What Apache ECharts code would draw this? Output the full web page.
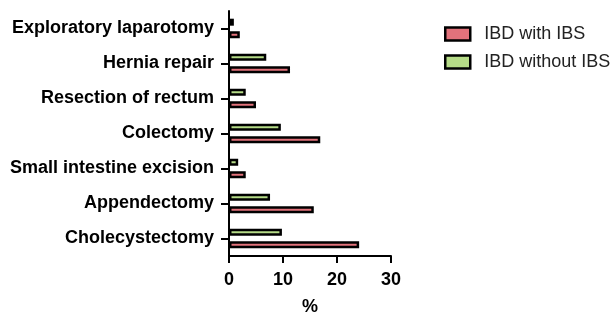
<!DOCTYPE html>
<html>
<head>
<meta charset="utf-8">
<script src="https://cdn.jsdelivr.net/npm/echarts@6/dist/echarts.min.js"></script>
<style>
  html, body { margin: 0; padding: 0; background: #fff; }
  #chart { width: 614px; height: 315px; }
</style>
</head>
<body>
<div id="chart"></div>
<script>
// categories listed bottom to top
const procedures = ['Cholecystectomy', 'Appendectomy', 'Small intestine excision', 'Colectomy',
  'Resection of rectum', 'Hernia repair', 'Exploratory laparotomy'];
const withIBS = [24.1, 15.7, 3.1, 16.9, 5.0, 11.3, 2.0];
const withoutIBS = [9.8, 7.6, 1.7, 9.6, 3.1, 6.9, 0.9];
const xTicks = [0, 10, 20, 30];

const chart = echarts.init(document.getElementById('chart'));
const font = 'Liberation Sans, Arial, sans-serif';

chart.setOption({
  animation: false,
  textStyle: { fontFamily: font },
  legend: {
    orient: 'vertical',
    left: 439,
    top: 20,
    icon: 'rect',
    itemWidth: 25,
    itemHeight: 13,
    itemGap: 10,
    itemStyle: { borderWidth: 2.5, borderColor: '#000' },
    textStyle: { fontSize: 18, color: '#222', fontFamily: font, padding: [0, 0, 0, 9] },
    data: ['IBD with IBS', 'IBD without IBS']
  },
  grid: { left: 229, top: 11, width: 162, height: 245, containLabel: false, outerBoundsMode: 'none' },
  xAxis: {
    type: 'value',
    min: xTicks[0],
    max: xTicks[xTicks.length - 1],
    interval: 10,
    name: '%',
    nameLocation: 'middle',
    nameGap: 42,
    nameTextStyle: { fontSize: 18, fontWeight: 'bold', color: '#000' },
    splitLine: { show: false },
    axisLine: { show: true, lineStyle: { color: '#000', width: 2 } },
    axisTick: { show: true, length: 7, lineStyle: { color: '#000', width: 2 } },
    axisLabel: { fontSize: 18, fontWeight: 'bold', color: '#000', margin: 15 }
  },
  yAxis: {
    type: 'category',
    data: procedures,
    axisLine: { show: true, lineStyle: { color: '#000', width: 2 } },
    axisTick: { show: true, alignWithLabel: true, length: 8, lineStyle: { color: '#000', width: 2 } },
    axisLabel: { fontSize: 18, fontWeight: 'bold', color: '#000', margin: 15 }
  },
  series: [
    {
      name: 'IBD without IBS',
      type: 'bar',
      data: withoutIBS,
      barWidth: 7,
      barGap: '80%',
      itemStyle: { color: '#b6dc88', borderColor: '#000', borderWidth: 2.5 }
    },
    {
      name: 'IBD with IBS',
      type: 'bar',
      data: withIBS,
      barWidth: 7,
      barGap: '80%',
      itemStyle: { color: '#e2727b', borderColor: '#000', borderWidth: 2.5 }
    }
  ]
});
</script>
</body>
</html>
